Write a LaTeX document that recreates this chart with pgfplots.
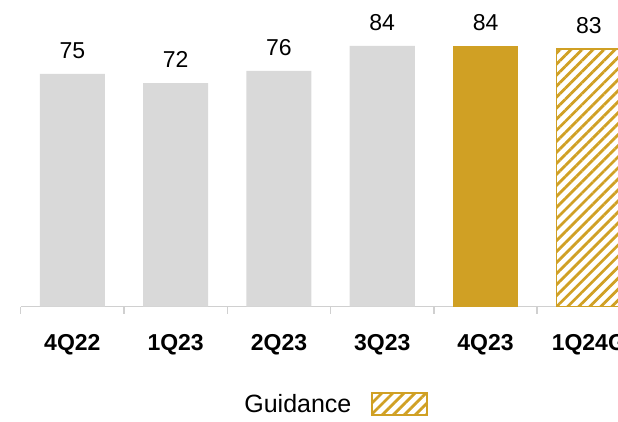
\documentclass[border=0pt]{standalone}
\usepackage{pgfplots}
\pgfplotsset{compat=1.18}
\usepackage{fontspec}
\setmainfont{Liberation Sans}
\usetikzlibrary{patterns.meta}
\definecolor{barGray}{RGB}{217,217,217}
\definecolor{gold}{RGB}{208,160,36}
\definecolor{axGray}{RGB}{208,208,208}
\begin{document}
\begin{tikzpicture}
\begin{axis}[
  at={(20.7pt,115.3pt)}, anchor=south west,
  scale only axis, width=619.8pt, height=306.7pt,
  xmin=-0.5, xmax=5.5, ymin=0, ymax=98.8,
  axis x line*=bottom, axis y line=none,
  axis line style={axGray, line width=1.5pt, -},
  xtick={-0.5,0.5,...,5.5},
  x tick label as interval,
  xticklabels={4Q22,1Q23,2Q23,3Q23,4Q23,1Q24G},
  xticklabel style={font=\fontsize{23}{28}\selectfont\bfseries, anchor=north, inner sep=0pt, yshift=-20pt},
  tick align=outside, major tick length=7.3pt,
  tick style={axGray, line width=1.5pt},
  ytick=\empty,
  clip=false,
  /pgf/number format/assume math mode=true,
  nodes near coords,
  every node near coord/.append style={font=\fontsize{23}{28}\selectfont, anchor=base, inner sep=0pt, yshift=15.7pt, text=black},
  legend plot pos=right,
  legend style={at={(0.5087,-0.317)}, anchor=center, draw=none, fill=none,
    font=\fontsize{25}{30}\selectfont, inner sep=0pt, column sep=20pt,
    nodes={inner sep=0pt}},
]
\addplot[ybar, bar width=0.63, bar shift=0pt, fill=barGray, draw=none, forget plot]
  coordinates {(0,75) (1,72) (2,76) (3,84)};
\addplot[ybar, bar width=0.63, bar shift=0pt, fill=gold, draw=none, forget plot]
  coordinates {(4,84)};
\addplot[ybar, bar width=0.63, bar shift=0pt, draw=gold, line width=1.2pt,
  pattern={Lines[angle=45,distance=7.8pt,line width=2.8pt]}, pattern color=gold,
  legend image code/.code={\draw[draw=gold, line width=1.2pt, pattern={Lines[angle=45,distance=7.8pt,line width=2.8pt]}, pattern color=gold] (0pt,-11pt) rectangle (55pt,11pt);}]
  coordinates {(5,83)};
\addlegendentry{Guidance}
\end{axis}
\pgfresetboundingbox
\useasboundingbox (0,0) rectangle (618pt,422pt);
\end{tikzpicture}
\end{document}
